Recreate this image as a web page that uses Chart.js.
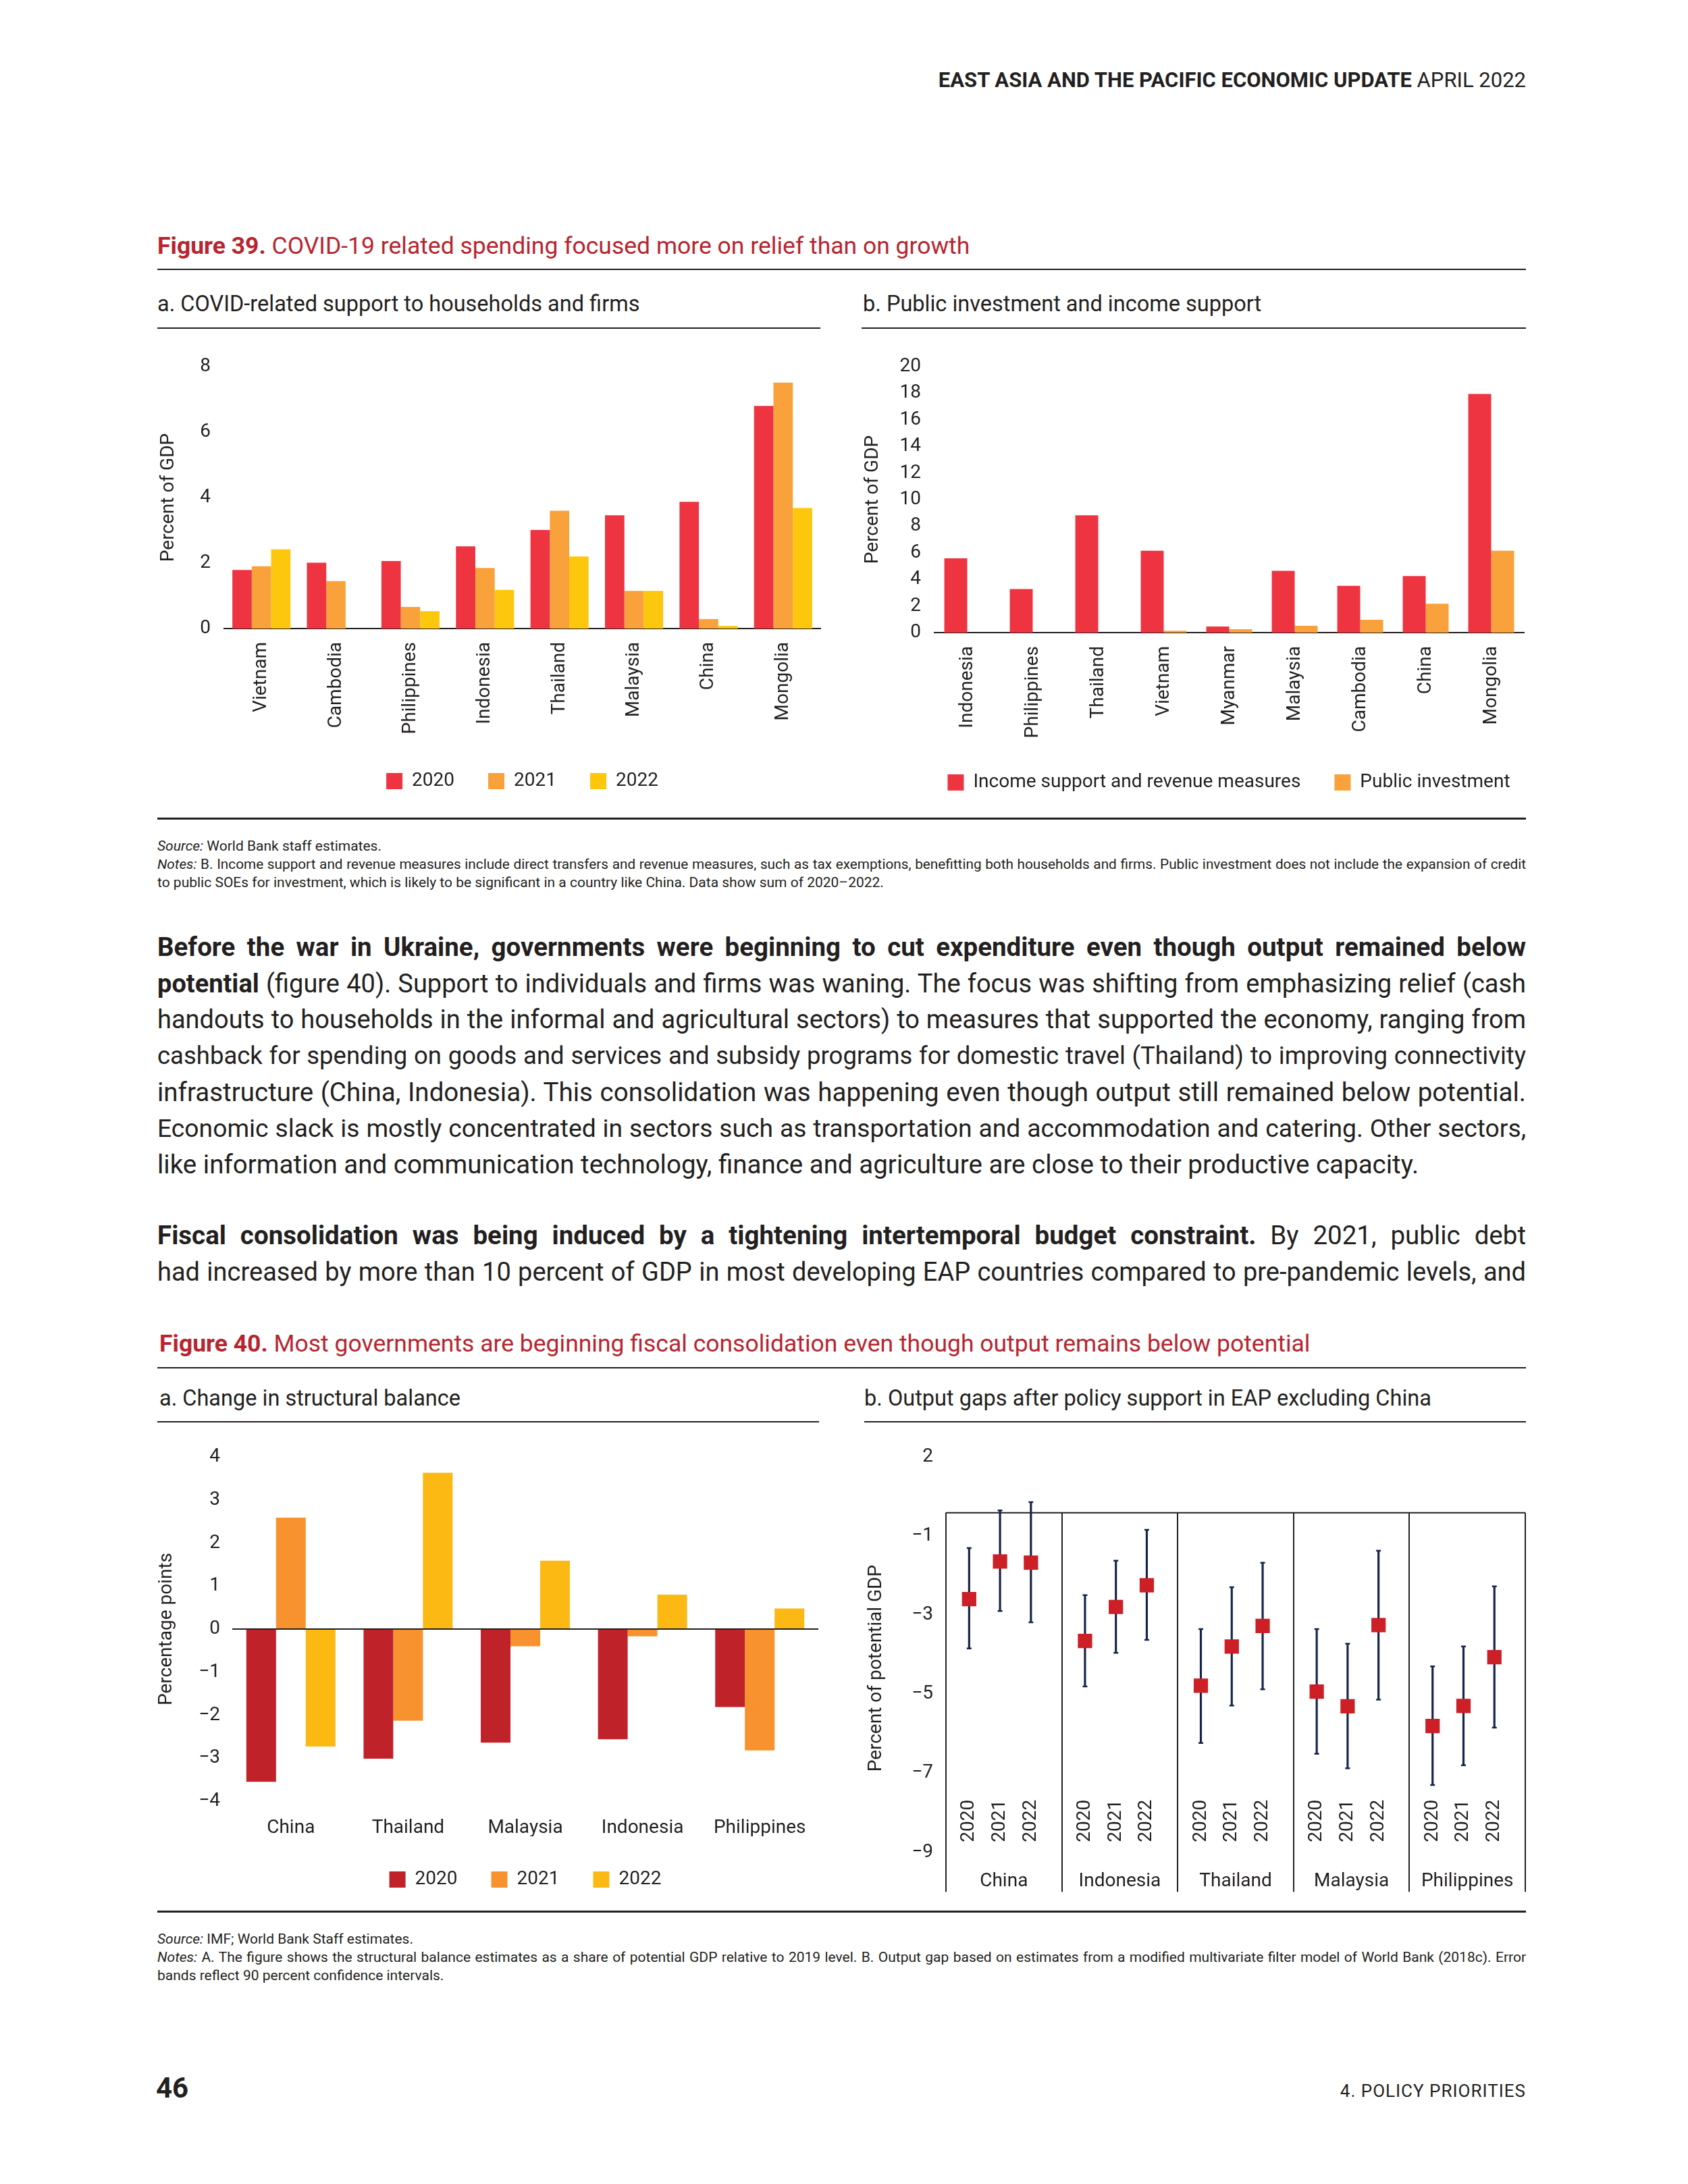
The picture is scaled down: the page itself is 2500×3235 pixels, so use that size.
<!DOCTYPE html>
<html>
<head>
<meta charset="utf-8">
<script src="https://cdn.jsdelivr.net/npm/chart.js@4.4.1/dist/chart.umd.min.js"></script>
<style>
  html, body { margin: 0; padding: 0; background: #fff; }
  body { width: 2500px; height: 3235px; position: relative; font-family: Roboto, "Noto Sans", sans-serif; color: #231f20; overflow: hidden; }
  .t { position: absolute; white-space: nowrap; }
  .rule { position: absolute; background: #231f20; }
  .fig { color: #b8252f; font-size: 35.5px; line-height: 40px; left: 233px; }
  .sub { font-size: 32.5px; line-height: 36px; }
  .note { font-size: 21px; line-height: 27px; left: 233px; width: 2027px; }
  .body { font-size: 38.5px; line-height: 44px; left: 233px; width: 2027px; }
  .just { text-align: justify; text-align-last: justify; white-space: normal; }
  canvas { position: absolute; }
</style>
</head>
<body>

<div class="t" style="right:240px; top:101px; font-size:31px; line-height:36px;"><b>EAST ASIA AND THE PACIFIC ECONOMIC UPDATE</b> APRIL 2022</div>

<!-- Figure 39 -->
<div class="t fig" style="top:344px;"><b>Figure 39.</b> COVID-19 related spending focused more on relief than on growth</div>
<div class="rule" style="left:233px; top:398px; width:2027px; height:2px;"></div>
<div class="t sub" style="left:233px; top:432px;">a. COVID-related support to households and firms</div>
<div class="t sub" style="left:1278px; top:432px;">b. Public investment and income support</div>
<div class="rule" style="left:233px; top:485px; width:982px; height:2px;"></div>
<div class="rule" style="left:1276px; top:485px; width:984px; height:2px;"></div>

<canvas id="covidChart" style="left:233px; top:500px;"></canvas>
<canvas id="investChart" style="left:1276px; top:500px;"></canvas>

<div class="rule" style="left:233px; top:1211px; width:2027px; height:3px;"></div>
<div class="t note" style="top:1240px;"><i>Source:</i> World Bank staff estimates.</div>
<div class="t note just" style="top:1267px;"><i>Notes:</i> B. Income support and revenue measures include direct transfers and revenue measures, such as tax exemptions, benefitting both households and firms. Public investment does not include the expansion of credit</div>
<div class="t note" style="top:1294px;">to public SOEs for investment, which is likely to be significant in a country like China. Data show sum of 2020–2022.</div>

<!-- Body text -->
<div class="t body just" style="top:1381px;"><b>Before the war in Ukraine, governments were beginning to cut expenditure even though output remained below</b></div>
<div class="t body just" style="top:1435px;"><b>potential</b> (figure 40). Support to individuals and firms was waning. The focus was shifting from emphasizing relief (cash</div>
<div class="t body just" style="top:1488px;">handouts to households in the informal and agricultural sectors) to measures that supported the economy, ranging from</div>
<div class="t body just" style="top:1542px;">cashback for spending on goods and services and subsidy programs for domestic travel (Thailand) to improving connectivity</div>
<div class="t body just" style="top:1596px;">infrastructure (China, Indonesia). This consolidation was happening even though output still remained below potential.</div>
<div class="t body just" style="top:1649px;">Economic slack is mostly concentrated in sectors such as transportation and accommodation and catering. Other sectors,</div>
<div class="t body" style="top:1703px;">like information and communication technology, finance and agriculture are close to their productive capacity.</div>
<div class="t body just" style="top:1808px;"><b>Fiscal consolidation was being induced by a tightening intertemporal budget constraint.</b> By 2021, public debt</div>
<div class="t body just" style="top:1862px;">had increased by more than 10 percent of GDP in most developing EAP countries compared to pre-pandemic levels, and</div>

<!-- Figure 40 -->
<div class="t fig" style="top:1970px; left:236px;"><b>Figure 40.</b> Most governments are beginning fiscal consolidation even though output remains below potential</div>
<div class="rule" style="left:233px; top:2025px; width:2027px; height:2px;"></div>
<div class="t sub" style="left:236px; top:2053px;">a. Change in structural balance</div>
<div class="t sub" style="left:1280px; top:2053px;">b. Output gaps after policy support in EAP excluding China</div>
<div class="rule" style="left:233px; top:2105px; width:980px; height:2px;"></div>
<div class="rule" style="left:1280px; top:2105px; width:980px; height:2px;"></div>

<canvas id="balanceChart" style="left:230px; top:2115px;"></canvas>
<canvas id="gapChart" style="left:1281px; top:2100px;"></canvas>

<div class="rule" style="left:233px; top:2830px; width:2027px; height:3px;"></div>
<div class="t note" style="top:2859px;"><i>Source:</i> IMF; World Bank Staff estimates.</div>
<div class="t note just" style="top:2886px;"><i>Notes:</i> A. The figure shows the structural balance estimates as a share of potential GDP relative to 2019 level. B. Output gap based on estimates from a modified multivariate filter model of World Bank (2018c). Error</div>
<div class="t note" style="top:2913px;">bands reflect 90 percent confidence intervals.</div>

<div class="t" style="left:231px; top:3068px; font-size:42px; line-height:50px; font-weight:bold;">46</div>
<div class="t" style="right:240px; top:3080px; font-size:26px; line-height:34px; letter-spacing:1px;">4. POLICY PRIORITIES</div>

<script>
// Figure 39a: COVID-related support, percent of GDP
const covidCountries = ['Vietnam', 'Cambodia', 'Philippines', 'Indonesia', 'Thailand', 'Malaysia', 'China', 'Mongolia'];
const covid2020 = [1.79, 2.01, 2.06, 2.51, 3.01, 3.46, 3.87, 6.80];
const covid2021 = [1.90, 1.45, 0.66, 1.85, 3.60, 1.15, 0.29, 7.51];
const covid2022 = [2.42, null, 0.53, 1.18, 2.20, 1.15, 0.08, 3.68];

// Figure 39b: public investment and income support, sum 2020-2022
const investCountries = ['Indonesia', 'Philippines', 'Thailand', 'Vietnam', 'Myanmar', 'Malaysia', 'Cambodia', 'China', 'Mongolia'];
const incomeSupport = [5.59, 3.28, 8.82, 6.16, 0.46, 4.65, 3.51, 4.25, 17.95];
const publicInvestment = [null, null, null, 0.14, 0.26, 0.51, 0.97, 2.17, 6.16];

// Figure 40a: change in structural balance, percentage points
const balanceCountries = ['China', 'Thailand', 'Malaysia', 'Indonesia', 'Philippines'];
const balance2020 = [-3.55, -3.01, -2.64, -2.56, -1.81];
const balance2021 = [2.59, -2.13, -0.40, -0.17, -2.82];
const balance2022 = [-2.73, 3.63, 1.59, 0.80, 0.48];

// Figure 40b: output gaps, percent of potential GDP (one row per country, 2020-2022)
const gapCountries = ['China', 'Indonesia', 'Thailand', 'Malaysia', 'Philippines'];
const gapYears = ['2020', '2021', '2022'];
const gapMid = [[-2.60, -1.65, -1.68], [-3.66, -2.80, -2.25], [-4.79, -3.80, -3.28], [-4.94, -5.31, -3.26], [-5.81, -5.30, -4.07]];
const gapHigh = [[-1.31, -0.36, -0.15], [-2.50, -1.63, -0.85], [-3.36, -2.30, -1.68], [-3.36, -3.73, -1.38], [-4.30, -3.80, -2.28]];
const gapLow = [[-3.85, -2.90, -3.19], [-4.81, -3.96, -3.63], [-6.24, -5.29, -4.88], [-6.51, -6.88, -5.14], [-7.30, -6.80, -5.85]];
const gapTickValues = [-9, -7, -5, -3, -1, 1];
const gapTickLabels = ['\u22129', '\u22127', '\u22125', '\u22123', '\u22121', '2'];

// shrink a justified line only if its natural width would not fit the column
function fitLines(selector, maxSize, maxWidth) {
    document.querySelectorAll(selector).forEach(el => {
        const probe = el.cloneNode(true);
        probe.className = 't';
        probe.style.visibility = 'hidden';
        probe.style.width = 'auto';
        probe.style.whiteSpace = 'nowrap';
        probe.style.fontSize = maxSize + 'px';
        document.body.appendChild(probe);
        let fs = maxSize;
        while (probe.getBoundingClientRect().width > maxWidth && fs > 10) {
            fs -= 0.25;
            probe.style.fontSize = fs + 'px';
        }
        probe.remove();
        el.style.fontSize = fs + 'px';
    });
}
fitLines('.body.just', 38.5, 2024);
fitLines('.note.just', 21, 2024);

Chart.defaults.font.family = 'Roboto, "Noto Sans", sans-serif';
Chart.defaults.font.size = 28;
Chart.defaults.color = '#231f20';

const INK = '#231f20';
const minus = v => (v < 0 ? '\u2212' + Math.abs(v) : String(v));

function sizeCanvas(id, w, h) {
    const c = document.getElementById(id);
    c.width = w; c.height = h;
    c.style.width = w + 'px'; c.style.height = h + 'px';
    return c.getContext('2d');
}

function baseOptions(yWidth, xHeight, padding) {
    return {
        responsive: false,
        animation: false,
        devicePixelRatio: 1,
        layout: { padding: padding },
        plugins: {
            tooltip: { enabled: false },
            legend: {
                position: 'bottom',
                fullSize: false,
                labels: { boxWidth: 24, boxHeight: 24, padding: 50, color: INK, font: { size: 28 } }
            }
        },
        scales: {
            x: {
                grid: { display: false, drawTicks: false },
                border: { display: true, color: INK, width: 2 },
                ticks: { padding: 20, autoSkip: false, color: INK },
                afterFit: s => { s.height = xHeight; }
            },
            y: {
                grid: { display: false, drawTicks: false },
                border: { display: false },
                ticks: { padding: 20, autoSkip: false, color: INK },
                title: { display: true, padding: 0, color: INK, font: { size: 28 } },
                afterFit: s => { s.width = yWidth; }
            }
        }
    };
}

// ---- Figure 39a ----
const optA = baseOptions(99, 162, { top: 43, right: 8, left: 0, bottom: 0 });
Object.assign(optA.scales.x.ticks, { minRotation: 90, maxRotation: 90 });
Object.assign(optA.scales.y, { min: 0, max: 8 });
optA.scales.y.ticks.stepSize = 2;
optA.scales.y.title.text = 'Percent of GDP';
new Chart(sizeCanvas('covidChart', 990, 681), {
    type: 'bar',
    data: {
        labels: covidCountries,
        datasets: [
            { label: '2020', data: covid2020, backgroundColor: '#ee3440' },
            { label: '2021', data: covid2021, backgroundColor: '#f9a23b' },
            { label: '2022', data: covid2022, backgroundColor: '#fdc70e' }
        ]
    },
    options: Object.assign(optA, { datasets: { bar: { categoryPercentage: 0.78, barPercentage: 1.0 } } })
});

// ---- Figure 39b ----
// an empty right-hand axis balances the left one, so the full-width legend centres under the plot
const optB = baseOptions(108, 158, { top: 43, right: 0, left: 0, bottom: 0 });
optB.plugins.legend.fullSize = true;
Object.assign(optB.scales.x.ticks, { minRotation: 90, maxRotation: 90 });
Object.assign(optB.scales.y, { min: 0, max: 20 });
optB.scales.y.ticks.stepSize = 2;
optB.scales.y.title.text = 'Percent of GDP';
optB.scales.spacer = {
    position: 'right',
    grid: { display: false, drawTicks: false },
    border: { display: false },
    ticks: { display: false },
    afterFit: s => { s.width = 107; }
};
new Chart(sizeCanvas('investChart', 1088, 683), {
    type: 'bar',
    data: {
        labels: investCountries,
        datasets: [
            { label: 'Income support and revenue measures', data: incomeSupport, backgroundColor: '#ee3440' },
            { label: 'Public investment', data: publicInvestment, backgroundColor: '#f9a23b' }
        ]
    },
    options: Object.assign(optB, { datasets: { bar: { categoryPercentage: 0.70, barPercentage: 1.0 } } })
});

// ---- Figure 40a ----
const optC = baseOptions(114, 52, { top: 43, right: 8, left: 0, bottom: 0 });
optC.scales.x.border.display = false;
optC.scales.x.ticks.padding = 23;
optC.scales.x.ticks.maxRotation = 0;
Object.assign(optC.scales.y, { min: -4, max: 4 });
optC.scales.y.ticks = { padding: 18, stepSize: 1, autoSkip: false, color: INK, callback: v => minus(v) };
optC.scales.y.grid = {
    display: true, drawTicks: false, lineWidth: 2,
    color: ctx => (ctx.tick && ctx.tick.value === 0 ? INK : 'rgba(0,0,0,0)')
};
optC.scales.y.title.text = 'Percentage points';
new Chart(sizeCanvas('balanceChart', 990, 693), {
    type: 'bar',
    data: {
        labels: balanceCountries,
        datasets: [
            { label: '2020', data: balance2020, backgroundColor: '#c0222a' },
            { label: '2021', data: balance2021, backgroundColor: '#f7922e' },
            { label: '2022', data: balance2022, backgroundColor: '#fcb813' }
        ]
    },
    options: Object.assign(optC, { datasets: { bar: { categoryPercentage: 0.76, barPercentage: 1.0 } } })
});

// ---- Figure 40b ----
const yearOffset = [0.6, 1.4, 2.2];   // position of each year inside a country panel (3 units wide)
const gapPoints = [], gapBars = [], gapCaps = [];
gapCountries.forEach((c, g) => {
    gapYears.forEach((yr, j) => {
        const x = g * 3 + yearOffset[j];
        gapPoints.push({ x: x, y: gapMid[g][j] });
        gapBars.push({ x: x, y: [gapLow[g][j], gapHigh[g][j]] });
        gapCaps.push({ x: x, y: gapLow[g][j] }, { x: x, y: gapHigh[g][j] });
    });
});

const gapFrame = {
    id: 'gapFrame',
    beforeDatasetsDraw(chart) {
        const { ctx, chartArea, scales: { x, y } } = chart;
        const top = y.getPixelForValue(-0.42);
        ctx.save();
        ctx.strokeStyle = INK;
        ctx.lineWidth = 2;
        ctx.beginPath();
        ctx.moveTo(x.getPixelForValue(0), top);
        ctx.lineTo(x.getPixelForValue(gapCountries.length * 3), top);
        for (let g = 0; g <= gapCountries.length; g++) {
            const px = Math.round(x.getPixelForValue(g * 3));
            ctx.moveTo(px, top);
            ctx.lineTo(px, chartArea.bottom);
        }
        ctx.stroke();

        ctx.fillStyle = INK;
        ctx.font = '28px Roboto, "Noto Sans", sans-serif';
        ctx.textAlign = 'center';
        ctx.textBaseline = 'middle';
        gapCountries.forEach((c, g) => {
            ctx.fillText(c, x.getPixelForValue(g * 3 + 1.5), chartArea.bottom - 15);
            gapYears.forEach((yr, j) => {
                ctx.save();
                ctx.translate(x.getPixelForValue(g * 3 + yearOffset[j]), chartArea.bottom - 105);
                ctx.rotate(-Math.PI / 2);
                ctx.fillText(yr, 0, 0);
                ctx.restore();
            });
        });
        ctx.restore();
    }
};

new Chart(sizeCanvas('gapChart', 993, 738), {
    type: 'bar',
    data: {
        datasets: [
            { type: 'scatter', label: 'Output gap', data: gapPoints, pointStyle: 'rect', radius: 15,
              backgroundColor: '#cc1f26', borderWidth: 0, order: 0 },
            { type: 'scatter', label: 'caps', data: gapCaps, pointStyle: 'line', radius: 3.5,
              borderColor: '#16244a', borderWidth: 2.5, order: 1 },
            { type: 'bar', label: 'Confidence band', data: gapBars, backgroundColor: '#16244a',
              barThickness: 2.5, grouped: false, order: 2 }
        ]
    },
    options: {
        responsive: false,
        animation: false,
        devicePixelRatio: 1,
        layout: { padding: { top: 40, right: 2, left: 0, bottom: 2 } },
        plugins: { legend: { display: false }, tooltip: { enabled: false } },
        scales: {
            x: { type: 'linear', min: 0, max: gapCountries.length * 3, offset: false, display: false },
            y: {
                min: -10, max: 1.3,
                grid: { display: false, drawTicks: false },
                border: { display: false },
                afterBuildTicks: s => { s.ticks = gapTickValues.map(v => ({ value: v })); },
                ticks: { padding: 19, color: INK, callback: (v, i) => gapTickLabels[i] },
                title: { display: true, text: 'Percent of potential GDP', padding: 0, color: INK, font: { size: 28 } },
                afterFit: s => { s.width = 120; }
            }
        }
    },
    plugins: [gapFrame]
});
</script>
</body>
</html>
